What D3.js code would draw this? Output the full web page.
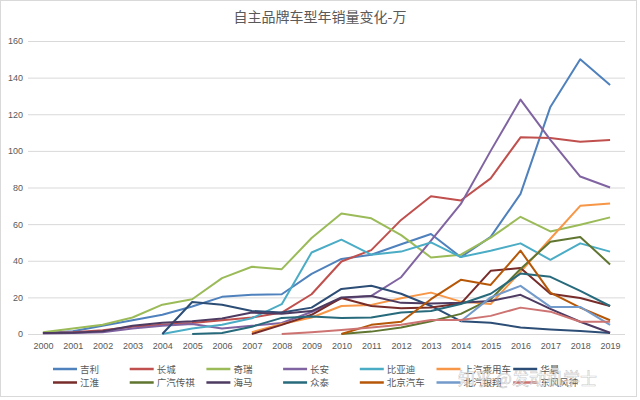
<!DOCTYPE html>
<html>
<head>
<meta charset="utf-8">
<script src="https://cdn.jsdelivr.net/npm/d3@7"></script>
<style>
  body { margin: 0; background: #fff; }
  text { font-family: "Noto Sans CJK SC", "Noto Sans", sans-serif; }
</style>
</head>
<body>
<script>
// years and tick labels
var years = ['2000','2001','2002','2003','2004','2005','2006','2007','2008','2009',
             '2010','2011','2012','2013','2014','2015','2016','2017','2018','2019'];
var yTicks = [0, 20, 40, 60, 80, 100, 120, 140, 160];

var brands = ['吉利','长城','奇瑞','长安','比亚迪','上汽乘用车','华晨',
              '江淮','广汽传祺','海马','众泰','北京汽车','北汽银翔','东风风神'];
var colors = ['#4F81BD','#C0504D','#9BBB59','#8064A2','#4BACC6','#F79646','#2C4D75',
              '#772C2A','#5F7530','#4D3B62','#276A7C','#B65708','#729ACA','#CD7371'];

// sales, 万 (null = no data yet)
var jili     = [0.5,1.5,4.5,7.5,10.5,15,20.3,21.4,21.7,32.8,41,43.3,49,54.6,42,53,76.5,124,150,136];
var changcheng = [0.5,1,2,4,5,6,7.5,9,11.7,21.7,39.6,45.8,62.3,75.2,72.9,85,107.4,107,105,106];
var qirui    = [1,3,5,9,16,19,30.5,36.7,35.4,52.4,65.8,63.2,54,41.8,43.3,52.6,64,56,59.7,63.7];
var changan  = [0.3,0.5,1,3,4.5,5.5,3,4.5,6,12,19.5,20.8,31,51,71,100,128,106,86,80];
var byd      = [null,null,null,null,0,3,5,8.6,16.3,44.5,51.5,43.3,45,50,42,45.5,49.5,40.5,49.5,45];
var shangqi  = [null,null,null,null,null,null,null,1,5.5,9,15.3,15.9,19.5,22.6,17.7,16.4,34,52,70,71.2];
var huachen  = [null,null,null,null,0,17.5,16,12.6,11.7,14.4,24.6,26.3,22,15.3,7,6.2,3.5,2.4,1.6,0.5];
var jianghuai = [null,null,null,null,null,null,null,0,5,10.5,19.7,15.3,14,14.5,16.6,34.5,36,22,19.7,15.3];
var guangqi  = [null,null,null,null,null,null,null,null,null,null,0,1.3,3.5,7,11,19,35.5,50.4,53,38];
var haima    = [0.5,0.7,1.5,4.5,6.2,7,8.5,11.7,11,12.5,20,20.8,17,16.6,17,18,21.4,13.7,6.7,0.7];
var zhongtai = [null,null,null,null,null,0,0.5,4,8.8,9.5,8.8,9,11.7,12.6,16.4,22,33,31.2,23.5,15.3];
var beijing  = [null,null,null,null,null,null,null,null,null,null,0,5,6.7,19,29.6,26.8,45.5,22.6,14.4,7.5];
var yinxiang = [null,null,null,null,null,null,null,null,null,null,null,null,null,null,7,20,26.3,14.8,14.8,5];
var fengshen = [null,null,null,null,null,null,null,null,0,1,2.2,3.5,5,7.6,7.6,9.9,14.4,12.2,6.7,6.7];

var seriesValues = [jili, changcheng, qirui, changan, byd, shangqi, huachen,
                    jianghuai, guangqi, haima, zhongtai, beijing, yinxiang, fengshen];

var width = 640, height = 400;

var svg = d3.select('body').append('svg').attr('width', width).attr('height', height);

// chart frame
svg.append('rect')
    .attr('x', 0.5).attr('y', 0.5)
    .attr('width', 636).attr('height', 396)
    .attr('fill', '#fff').attr('stroke', '#D9D9D9');

svg.append('text')
    .attr('x', 320).attr('y', 22)
    .attr('text-anchor', 'middle')
    .attr('font-size', 14)
    .attr('fill', '#595959')
    .text('自主品牌车型年销量变化-万');

var x = d3.scalePoint().domain(years).range([28, 625]).padding(0.5);
var y = d3.scaleLinear().domain([0, 160]).range([334, 41]);

// grid
svg.append('g')
    .selectAll('line')
    .data(yTicks)
    .enter()
    .append('line')
    .attr('x1', 28).attr('x2', 625)
    .attr('y1', function(d) { return y(d) + 0.5; })
    .attr('y2', function(d) { return y(d) + 0.5; })
    .attr('stroke', '#D9D9D9');

var yAxis = svg.append('g')
    .attr('transform', 'translate(23,0)')
    .call(d3.axisLeft(y).tickValues(yTicks).tickSize(0).tickPadding(0));
yAxis.select('.domain').remove();
yAxis.selectAll('text').attr('font-size', 9).attr('fill', '#595959')
    .style('font-family', 'Liberation Sans, Arial, sans-serif');

var xAxis = svg.append('g')
    .attr('transform', 'translate(0,' + 343 + ')')
    .call(d3.axisBottom(x).tickSize(0).tickPadding(0));
xAxis.select('.domain').remove();
xAxis.selectAll('text').attr('font-size', 9).attr('fill', '#595959')
    .style('font-family', 'Liberation Sans, Arial, sans-serif');

var line = d3.line()
    .defined(function(d) { return d != null; })
    .x(function(d, i) { return x(years[i]); })
    .y(function(d) { return y(d); });

svg.append('g')
    .selectAll('path')
    .data(seriesValues)
    .enter()
    .append('path')
    .attr('d', line)
    .attr('fill', 'none')
    .attr('stroke', function(d, i) { return colors[i]; })
    .attr('stroke-width', 2)
    .attr('stroke-linejoin', 'round');

// legend, 7 per row
var legend = svg.append('g')
    .selectAll('g')
    .data(brands)
    .enter()
    .append('g')
    .attr('transform', function(d, i) {
        return 'translate(' + (53 + (i % 7) * 76.7) + ',' + (369 + Math.floor(i / 7) * 13.5) + ')';
    });

legend.append('line')
    .attr('x1', 0).attr('x2', 24)
    .attr('stroke', function(d, i) { return colors[i]; })
    .attr('stroke-width', 2.5);

legend.append('text')
    .attr('x', 27).attr('y', 3.5)
    .attr('font-size', 9.5)
    .attr('fill', '#595959')
    .text(function(d) { return d; });

// watermark
svg.append('text')
    .attr('x', 458).attr('y', 385)
    .attr('font-size', 17)
    .attr('fill', '#fff')
    .attr('fill-opacity', 0.6)
    .attr('stroke', '#9a9a9a')
    .attr('stroke-opacity', 0.55)
    .attr('stroke-width', 0.6)
    .text('知乎 @发动机学士');
</script>
</body>
</html>
